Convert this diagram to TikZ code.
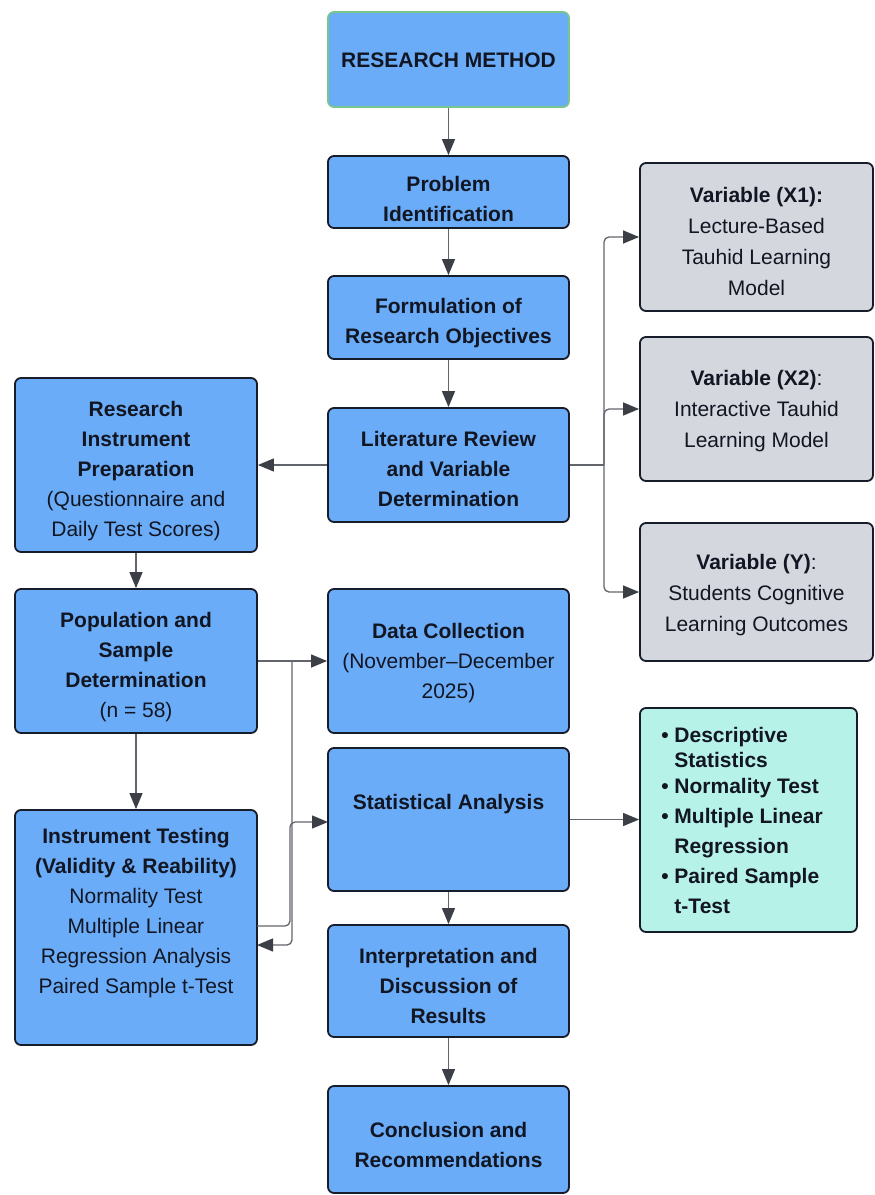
\documentclass[tikz,border=0pt]{standalone}
\usepackage{fontspec}
\setmainfont{Liberation Sans}
\usetikzlibrary{arrows.meta}
\definecolor{boxblue}{RGB}{106,172,248}
\definecolor{boxgray}{RGB}{212,215,222}
\definecolor{boxmint}{RGB}{182,242,232}
\definecolor{edgec}{RGB}{22,28,42}
\definecolor{greenedge}{RGB}{120,198,140}
\definecolor{textc}{RGB}{18,22,34}
\definecolor{linec}{RGB}{98,102,108}
\definecolor{tipc}{RGB}{60,64,70}
\begin{document}
\begin{tikzpicture}[x=1pt,y=-1pt,
  every node/.style={font=\fontsize{21}{30}\selectfont},
  box/.style={draw=edgec, line width=1.8pt, rounded corners=6pt, fill=boxblue, inner sep=0pt},
  graybox/.style={box, fill=boxgray},
  mintbox/.style={box, fill=boxmint},
  txt/.style={align=center, inner sep=0pt, text=textc},
  conn/.style={draw=linec, line width=1.3pt, rounded corners=5pt, -{Triangle[length=16pt,width=13pt,fill=tipc,color=tipc]}},
  plain/.style={draw=linec, line width=1.3pt, rounded corners=5pt}]
\useasboundingbox (0,0) rectangle (875,1195);

% middle column boxes
\node[box, draw=greenedge, minimum width=241pt, minimum height=95pt] (rm) at (448.5,59.5) {};
\node[box, minimum width=241pt, minimum height=72pt] (pi) at (448.5,192) {};
\node[box, minimum width=241pt, minimum height=83pt] (fo) at (448.5,317.5) {};
\node[box, minimum width=241pt, minimum height=114pt] (lit) at (448.5,465) {};
\node[box, minimum width=241pt, minimum height=144pt] (dc) at (448.5,661) {};
\node[box, minimum width=241pt, minimum height=143pt] (sa) at (448.5,819.5) {};
\node[box, minimum width=241pt, minimum height=112pt] (ip) at (448.5,981) {};
\node[box, minimum width=241pt, minimum height=107pt] (co) at (448.5,1139.5) {};

% left column boxes
\node[box, minimum width=242pt, minimum height=174pt] (rip) at (136,465) {};
\node[box, minimum width=242pt, minimum height=144pt] (pop) at (136,661) {};
\node[box, minimum width=242pt, minimum height=235pt] (it) at (136,927.5) {};

% right column boxes
\node[graybox, minimum width=233pt, minimum height=148pt] (x1) at (756.5,237) {};
\node[graybox, minimum width=233pt, minimum height=144pt] (x2) at (756.5,409) {};
\node[graybox, minimum width=233pt, minimum height=138pt] (vy) at (756.5,592) {};
\node[mintbox, minimum width=217pt, minimum height=224pt] (st) at (748.5,820) {};

% texts
\node[txt] (rm-t) at ([yshift=-1pt]rm.center) {\bfseries RESEARCH METHOD};
\node[txt] (pi-t) at ([yshift=-7pt]pi.center) {\bfseries Problem\\ \bfseries Identification};
\node[txt] (fo-t) at ([yshift=-6pt]fo.center) {\bfseries Formulation of\\ \bfseries Research Objectives};
\node[txt] (lit-t) at ([yshift=-4pt]lit.center) {\bfseries Literature Review\\ \bfseries and Variable\\ \bfseries Determination};
\node[txt] (dc-t) at ([yshift=-2pt]dc.center) {\bfseries Data Collection\\ (November--December\\ 2025)};
\node[txt] (sa-t) at ([yshift=15pt]sa.center) {\bfseries Statistical Analysis};
\node[txt] (ip-t) at ([yshift=-5pt]ip.center) {\bfseries Interpretation and\\ \bfseries Discussion of\\ \bfseries Results};
\node[txt] (co-t) at ([yshift=-5pt]co.center) {\bfseries Conclusion and\\ \bfseries Recommendations};
\node[txt] (rip-t) at ([yshift=-6pt]rip.center) {\bfseries Research\\ \bfseries Instrument\\ \bfseries Preparation\\ (Questionnaire and\\ Daily Test Scores)};
\node[txt] (pop-t) at ([yshift=-6pt]pop.center) {\bfseries Population and\\ \bfseries Sample\\ \bfseries Determination\\ (n = 58)};
\node[txt] (it-t) at ([yshift=14pt]it.center) {\bfseries Instrument Testing\\ \bfseries (Validity \& Reability)\\ Normality Test\\ Multiple Linear\\ Regression Analysis\\ Paired Sample t-Test};
\node[txt] (x1-t) at ([yshift=-4pt]x1.center) {\bfseries Variable (X1):\\[1pt] Lecture-Based\\[1pt] Tauhid Learning\\[1pt] Model};
\node[txt] (x2-t) at ([yshift=-2pt]x2.center) {\bfseries Variable (X2)\mdseries:\\[1pt] Interactive Tauhid\\[1pt] Learning Model};
\node[txt] (vy-t) at ([yshift=-3pt]vy.center) {\bfseries Variable (Y)\mdseries:\\[1pt] Students Cognitive\\[1pt] Learning Outcomes};
\node[txt, align=left, anchor=west] (st-t) at ([xshift=22pt,yshift=0pt]st.west) {\bfseries \textbullet\ Descriptive\\[-5pt]
\bfseries \hphantom{\textbullet\ }Statistics\\[-4pt]
\bfseries \textbullet\ Normality Test\\
\bfseries \textbullet\ Multiple Linear\\
\bfseries \hphantom{\textbullet\ }Regression\\
\bfseries \textbullet\ Paired Sample\\
\bfseries \hphantom{\textbullet\ }t-Test};

% connectors, main column
\draw[conn] (rm) -- (pi);
\draw[conn] (pi) -- (fo);
\draw[conn] (fo) -- (lit);
\draw[conn] (sa) -- (ip);
\draw[conn] (ip) -- (co);
\draw[conn] (lit.west) -- (rip.east);
\draw[conn] (rip) -- (pop);
\draw[conn] (pop) -- (it);
\draw[conn] (sa.east) -- (sa.east -| st.west);

% right branches
\coordinate (rj) at (604,465);
\draw[plain] (lit.east) -- (rj);
\draw[conn] (rj) |- (x1.west);
\draw[conn] (rj) |- (x2.west);
\draw[conn] (rj) |- (vy.west);

% left trunk
\coordinate (lj) at (292,661);
\coordinate (lb) at (292,945);
\coordinate (itout) at (257,926);
\coordinate (itin) at (257,945);
\coordinate (tb) at (290,926);
\coordinate (tt) at (290,822);
\coordinate (sain) at (328,822);
\draw[conn] (pop.east) -- (dc.west);
\draw[conn] (lj) -- (lb) -- (itin);
\draw[conn] (itout) -- (tb) -- (tt) -- (sain);
\end{tikzpicture}
\end{document}
